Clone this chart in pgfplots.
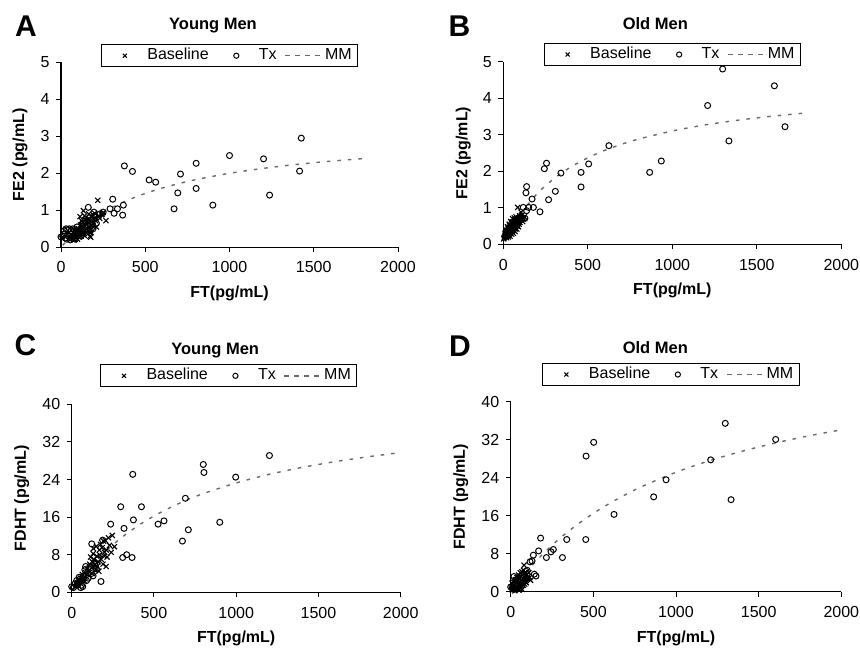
\documentclass[border=0pt]{standalone}
\usepackage{fontspec}
\setmainfont{Liberation Sans}
\usepackage{pgfplots}
\pgfplotsset{compat=1.18}

\definecolor{mmgray}{RGB}{105,105,105}

\pgfplotsset{
  panel/.style={
    scale only axis,
    axis lines=left,
    axis line style={-, line width=1.2pt},
    tick align=outside,
    major tick length=5pt,
    tick style={line width=1pt, black},
    xmin=0, xmax=2000, xtick={0,500,1000,1500,2000},
    ymin=0,
    scaled ticks=false,
    /pgf/number format/assume math mode=true,
    /pgf/number format/1000 sep={},
    ticklabel style={font=\fontsize{16}{19}\selectfont},
    xticklabel style={yshift=-6pt},
    yticklabel style={xshift=-3pt},
    label style={font=\bfseries\fontsize{16}{19}\selectfont},
    xlabel={FT(pg/mL)},
    title style={font=\bfseries\fontsize{16.5}{19}\selectfont, anchor=center, yshift=-8pt},
    clip=false,
    legend columns=3,
    legend cell align=left,
    legend style={
      anchor=south, draw=black, line width=1.1pt, fill=white,
      inner xsep=6pt, inner ysep=4pt, column sep=0pt,
      font=\fontsize{16}{19}\selectfont,
      nodes={inner sep=0pt, text height=11pt, text depth=3pt},
    },
  },
  base/.style={only marks, mark=x, mark size=3.6pt, black,
    mark options={line width=1.1pt},
    legend image code/.code={\draw[##1, mark size=2.8pt] plot coordinates {(0pt,0pt)}; \path (-17pt,0pt) (22pt,0pt);}},
  tx/.style={only marks, mark=o, mark size=3pt, black,
    mark options={line width=1pt},
    legend image code/.code={\draw[##1, mark size=2.6pt] plot coordinates {(0pt,0pt)}; \path (-27pt,0pt) (22pt,0pt);}},
  mm/.style={no marks, smooth, mmgray, line width=1.4pt, dash pattern=on 3.5pt off 7pt,
    legend image code/.code={\draw[##1, dash pattern=on 5pt off 5pt] (8pt,0pt) -- (44pt,0pt); \path (0pt,0pt) (47pt,0pt);}},
}

\begin{document}
\begin{tikzpicture}[x=1pt,y=1pt]
\useasboundingbox (0,0) rectangle (860,648);

% ---------- A: FE2, young men ----------
\begin{axis}[panel, at={(61pt,400.7pt)}, anchor=south west,
  width=337pt, height=185pt, ymax=5, ytick={0,1,2,3,4,5},
  ylabel={FE2 (pg/mL)},
  ylabel style={at={(axis description cs:-0.1217,0.5)}, anchor=center},
  xlabel style={at={(axis description cs:0.5,-0.2486)}, anchor=center},
  title={Young Men}, title style={at={(axis description cs:0.451,1.211)}},
  legend style={at={(0.5,0.973)}}]
\addplot[base] table {
x y
218 1.27
133 0.99
251 0.94
267 0.72
176 0.27
202 0.80
113 0.83
240 0.88
225 0.85
190 0.70
180 0.60
170 0.55
160 0.65
150 0.50
140 0.45
130 0.55
120 0.40
110 0.35
100 0.30
95 0.45
90 0.25
85 0.35
80 0.30
75 0.22
70 0.40
65 0.28
60 0.35
55 0.25
50 0.30
105 0.50
115 0.60
125 0.48
135 0.38
145 0.62
155 0.42
165 0.75
175 0.48
185 0.58
195 0.65
205 0.72
148 0.75
128 0.68
118 0.30
98 0.22
88 0.42
78 0.20
68 0.24
108 0.28
138 0.32
158 0.35
178 0.40
210 0.55
230 0.78
245 0.90
165 0.90
140 0.85
122 0.72
185 0.82
200 0.92
172 0.30
};
\addplot[tx] table {
x y
376 2.20
424 2.05
523 1.82
562 1.76
709 1.98
693 1.47
802 2.27
802 1.59
671 1.04
901 1.14
1000 2.48
1202 2.39
1238 1.41
1416 2.06
1426 2.95
307 1.30
291 1.04
315 0.92
335 1.04
370 1.14
366 0.87
162 1.08
0 0.28
10 0.30
20 0.45
30 0.50
40 0.48
50 0.50
60 0.45
70 0.50
80 0.48
90 0.42
35 0.22
45 0.30
55 0.20
65 0.25
75 0.30
85 0.22
100 0.35
110 0.45
120 0.30
130 0.65
140 0.55
150 0.70
160 0.60
170 0.80
180 0.75
190 0.50
200 0.85
210 0.65
230 0.90
250 0.95
15 0.35
25 0.25
95 0.55
125 0.40
175 0.45
195 0.95
};
\addplot[mm] table {
x y
10 0.052
50 0.246
100 0.457
200 0.800
300 1.067
400 1.280
500 1.455
600 1.600
700 1.723
800 1.829
1000 2.000
1200 2.133
1400 2.240
1600 2.327
1800 2.400
};
\legend{Baseline, Tx, MM}
\end{axis}

% ---------- B: FE2, old men ----------
\begin{axis}[panel, at={(503.3pt,403.7pt)}, anchor=south west,
  width=338pt, height=182.6pt, ymax=5, ytick={0,1,2,3,4,5},
  ylabel={FE2 (pg/mL)},
  ylabel style={at={(axis description cs:-0.1183,0.5)}, anchor=center},
  xlabel style={at={(axis description cs:0.5,-0.250)}, anchor=center},
  title={Old Men}, title style={at={(axis description cs:0.4497,1.2174)}},
  legend style={at={(0.5,0.976)}}]
\addplot[base] table {
x y
85 1.01
105 0.88
3 0.15
5 0.18
8 0.22
10 0.25
10 0.30
12 0.20
15 0.28
15 0.40
18 0.22
18 0.35
20 0.30
20 0.18
22 0.26
25 0.35
25 0.48
27 0.38
28 0.30
28 0.42
30 0.25
30 0.20
32 0.38
33 0.45
35 0.33
35 0.55
37 0.28
38 0.42
38 0.50
40 0.30
40 0.22
42 0.45
43 0.52
45 0.38
45 0.62
47 0.45
48 0.50
48 0.58
50 0.42
50 0.28
52 0.35
53 0.60
55 0.55
55 0.70
57 0.38
58 0.48
58 0.62
60 0.40
60 0.30
62 0.60
63 0.50
65 0.52
65 0.72
67 0.58
68 0.45
68 0.68
70 0.65
70 0.35
72 0.55
73 0.42
75 0.50
75 0.75
77 0.65
78 0.62
80 0.70
80 0.42
83 0.50
85 0.58
87 0.68
90 0.72
90 0.48
93 0.55
95 0.65
97 0.78
98 0.60
100 0.75
105 0.68
110 0.80
115 0.62
120 0.70
125 0.75
};
\addplot[tx] table {
x y
1298 4.80
1604 4.34
1209 3.80
1667 3.22
1335 2.83
625 2.70
935 2.28
866 1.97
256 2.22
243 2.07
341 1.95
505 2.20
460 1.97
460 1.57
308 1.45
268 1.22
138 1.58
134 1.41
170 1.24
178 1.01
217 0.89
118 1.01
150 1.01
138 0.92
128 0.71
100 0.75
20 0.25
40 0.40
60 0.50
80 0.55
};
\addplot[mm] table {
x y
10 0.098
50 0.450
100 0.818
200 1.385
300 1.800
400 2.118
500 2.368
600 2.571
700 2.739
800 2.880
1000 3.103
1200 3.273
1400 3.405
1600 3.512
1800 3.600
};
\legend{Baseline, Tx, MM}
\end{axis}

% ---------- C: FDHT, young men ----------
\begin{axis}[panel, at={(71.7pt,55.7pt)}, anchor=south west,
  width=329pt, height=188pt, ymax=40, ytick={0,8,16,24,32,40},
  ylabel={FDHT (pg/mL)},
  ylabel style={at={(axis description cs:-0.152,0.5)}, anchor=center},
  xlabel style={at={(axis description cs:0.5,-0.2447)}, anchor=center},
  title={Young Men}, title style={at={(axis description cs:0.4362,1.2979)}},
  legend style={at={(0.477,1.09)}}]
\addplot[base] table {
x y
247 12.1
223 11.6
260 9.7
193 10.9
168 9.0
132 9.3
209 5.5
152 7.7
200 8.5
180 7.0
160 6.5
140 5.8
120 5.2
100 4.5
90 3.8
80 3.2
70 3.0
60 2.5
50 2.2
40 1.8
30 1.5
20 1.2
110 6.0
125 4.0
135 7.0
145 4.8
155 5.5
170 8.0
185 9.5
190 6.0
210 9.0
230 10.0
240 8.5
175 10.2
150 9.8
130 8.2
115 7.5
105 3.5
95 5.0
85 4.2
75 2.5
65 3.8
55 3.0
45 2.6
35 2.0
205 11.0
215 7.5
195 7.8
165 4.5
125 6.5
};
\addplot[tx] table {
x y
1202 29.1
800 27.2
804 25.5
371 25.1
997 24.5
691 20.0
298 18.2
424 18.2
237 14.5
375 15.4
318 13.6
525 14.5
561 15.2
709 13.3
673 10.9
900 14.9
310 7.4
334 8.0
367 7.4
178 2.3
188 11.1
122 10.3
85 5.5
0 1.2
10 1.0
20 1.8
30 2.5
40 2.0
50 2.8
60 1.5
67 1.2
70 3.5
80 4.8
90 2.5
100 3.0
110 5.5
120 4.0
130 3.5
140 6.0
150 5.0
45 3.2
55 1.0
35 1.6
160 7.0
};
\addplot[mm] table {
x y
10 0.53
50 2.52
100 4.75
200 8.51
300 11.57
400 14.10
500 16.23
600 18.05
700 19.64
800 21.00
1000 23.27
1200 25.09
1400 26.57
1600 27.79
1800 28.83
2000 29.72
};
\legend{Baseline, Tx, MM}
\end{axis}

% ---------- D: FDHT, old men ----------
\begin{axis}[panel, at={(510.7pt,56.3pt)}, anchor=south west,
  width=330.6pt, height=189.7pt, ymax=40, ytick={0,8,16,24,32,40},
  ylabel={FDHT (pg/mL)},
  ylabel style={at={(axis description cs:-0.1512,0.5)}, anchor=center},
  xlabel style={at={(axis description cs:0.5,-0.2457)}, anchor=center},
  title={Old Men}, title style={at={(axis description cs:0.4374,1.2952)}},
  legend style={at={(0.485,1.084)}}]
\addplot[base] table {
x y
81 5.6
5 0.5
10 1.0
15 0.8
20 1.5
25 1.0
30 2.0
35 1.2
40 2.5
45 1.5
50 3.0
55 2.0
60 3.2
65 2.5
70 3.5
75 2.8
80 3.8
85 3.0
90 2.6
95 3.5
100 2.8
105 3.2
110 4.0
12 0.3
22 0.6
32 0.8
42 1.0
52 1.4
62 1.6
72 1.8
82 2.2
92 2.0
18 2.0
28 2.5
38 3.0
48 3.5
58 4.0
68 4.2
78 4.5
88 4.0
8 1.8
25 0.2
35 0.5
45 0.6
55 1.0
65 1.2
75 1.4
85 1.6
95 1.9
60 0.8
70 0.5
50 0.3
115 3.0
120 2.4
};
\addplot[tx] table {
x y
1298 35.5
1603 32.1
502 31.5
456 28.6
1210 27.8
940 23.6
865 20.0
1333 19.4
625 16.3
181 11.3
339 11.0
454 11.0
169 8.6
258 8.9
244 8.4
216 7.2
313 7.2
137 7.7
117 6.3
129 6.5
93 4.3
143 3.7
153 3.3
20 3.2
0 1.0
10 0.8
30 2.5
40 1.5
60 2.0
80 3.5
90 2.8
100 4.5
};
\addplot[mm] table {
x y
10 0.48
50 2.30
100 4.40
200 8.13
300 11.33
400 14.10
500 16.52
600 18.66
700 20.56
800 22.27
1000 25.19
1200 27.60
1400 29.62
1600 31.35
1800 32.84
1980 34.01
};
\legend{Baseline, Tx, MM}
\end{axis}

% panel letters
\node[font=\bfseries\fontsize{30}{30}\selectfont, inner sep=0pt] at (26,622) {A};
\node[font=\bfseries\fontsize{30}{30}\selectfont, inner sep=0pt] at (459.5,622) {B};
\node[font=\bfseries\fontsize{30}{30}\selectfont, inner sep=0pt] at (25.5,302.5) {C};
\node[font=\bfseries\fontsize{30}{30}\selectfont, inner sep=0pt] at (460,301.5) {D};
\end{tikzpicture}
\end{document}
